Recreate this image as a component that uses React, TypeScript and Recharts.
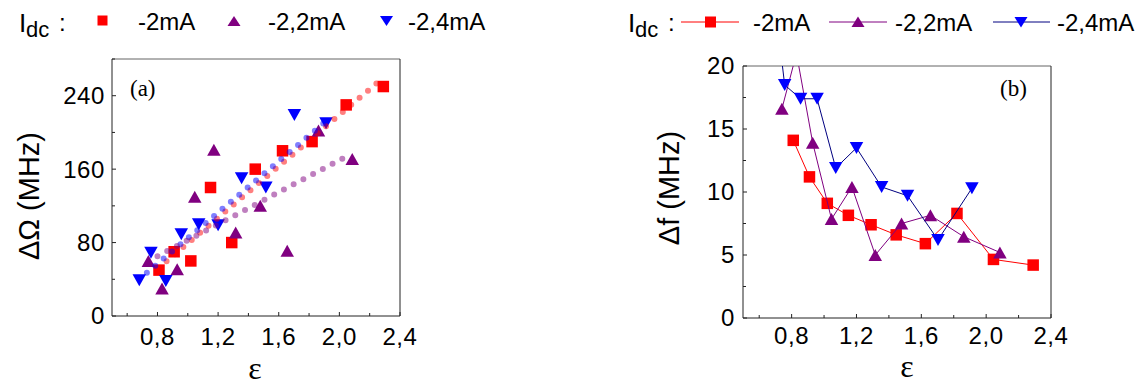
import React from 'react';
import { ScatterChart, Scatter, XAxis, YAxis, ReferenceLine } from 'recharts';

// ---------- data ----------
const epsRed = [0.81, 0.91, 1.02, 1.15, 1.29, 1.445, 1.625, 1.82, 2.045, 2.29];
const omegaRed = [50, 70, 60, 140, 80, 160, 180, 190, 230, 250];
const dfRed = [14.1, 11.2, 9.1, 8.15, 7.4, 6.6, 5.9, 8.3, 4.65, 4.2];

const epsPurple = [0.74, 0.83, 0.93, 1.046, 1.172, 1.316, 1.478, 1.656, 1.862, 2.085];
const omegaPurple = [60, 30, 51, 130, 181, 91, 120, 71, 202, 171];
const dfPurple = [16.6, 21, 13.9, 7.85, 10.4, 5.0, 7.5, 8.15, 6.45, 5.2];

const epsBlue = [0.68, 0.757, 0.855, 0.957, 1.072, 1.2, 1.355, 1.515, 1.703, 1.912];
const omegaBlue = [39, 69, 38, 89, 100, 99, 150, 140, 219, 210];
const dfBlue = [27, 18.5, 17.4, 17.4, 11.9, 13.5, 10.4, 9.7, 6.2, 10.3];

// linear fits (endpoints)
const fitRedEps = [0.86, 2.26];
const fitRedOmega = [59.6, 255.5];
const fitPurpleEps = [0.8, 2.06];
const fitPurpleOmega = [65.1, 175.0];
const fitBlueEps = [0.73, 1.94];
const fitBlueOmega = [47.1, 216.1];

const xTicks = [0.6, 0.8, 1.0, 1.2, 1.4, 1.6, 1.8, 2.0, 2.2, 2.4];
const xMajor = [0.8, 1.2, 1.6, 2.0, 2.4];
const yTicksA = [0, 40, 80, 120, 160, 200, 240, 280];
const yMajorA = [0, 80, 160, 240];
const yTicksB = [0, 2.5, 5, 7.5, 10, 12.5, 15, 17.5, 20];
const yMajorB = [0, 5, 10, 15, 20];

const seriesLabels = ['-2mA', '-2,2mA', '-2,4mA'];

// ---------- helpers ----------
const zip = (xs: number[], ys: number[]) => xs.map((x, i) => ({ x, y: ys[i] }));

const RED = '#ff0000';
const PURPLE = '#800080';
const BLUE = '#0000ff';
const AXIS = '#222';
const SANS = '"Liberation Sans", Arial, sans-serif';
const SERIF = '"Liberation Serif", "Times New Roman", serif';

const isIn = (arr: number[], v: number) => arr.some((m) => Math.abs(m - v) < 1e-6);

function makeXTick(major: number[], labelDy: number) {
  return (props: any) => {
    const { x, y, payload } = props;
    const mj = isIn(major, payload.value);
    return (
      <g>
        <line x1={x} x2={x} y1={y} y2={y - (mj ? 4 : 3)} stroke={AXIS} strokeWidth={1} />
        {mj && (
          <text x={x} y={y + labelDy} textAnchor="middle" fontSize={24} letterSpacing={0.6} fontFamily={SANS} fill="#000">
            {payload.value.toFixed(1).replace('.', ',')}
          </text>
        )}
      </g>
    );
  };
}

function makeYTick(major: number[], dx: number) {
  return (props: any) => {
    const { x, y, payload } = props;
    const mj = isIn(major, payload.value);
    return (
      <g>
        <line x1={x} x2={x + (mj ? 4 : 3)} y1={y} y2={y} stroke={AXIS} strokeWidth={1} />
        {mj && (
          <text x={x - dx} y={y + 8.4} textAnchor="end" fontSize={24} letterSpacing={0.6} fontFamily={SANS} fill="#000">
            {String(payload.value)}
          </text>
        )}
      </g>
    );
  };
}

const Square = (props: any) => {
  const { cx, cy } = props;
  const s = 11.5;
  return <rect x={cx - s / 2} y={cy - s / 2} width={s} height={s} fill={RED} />;
};
const TriUp = (props: any) => {
  const { cx, cy } = props;
  const w = 13.5, h = 12;
  return <polygon points={`${cx - w / 2},${cy + h / 2} ${cx + w / 2},${cy + h / 2} ${cx},${cy - h / 2}`} fill={PURPLE} />;
};
const TriDown = (props: any) => {
  const { cx, cy } = props;
  const w = 13.5, h = 12;
  return <polygon points={`${cx - w / 2},${cy - h / 2} ${cx + w / 2},${cy - h / 2} ${cx},${cy + h / 2}`} fill={BLUE} />;
};
const NoShape = () => <g />;

const dotLine = (color: string) => ({
  stroke: color,
  strokeOpacity: 0.5,
  strokeWidth: 6,
  strokeDasharray: '0 11',
  strokeLinecap: 'round' as const,
});

// ---------- panels ----------
function PanelA() {
  return (
    <ScatterChart
      width={573}
      height={385}
      margin={{ top: 59, left: 72, right: 173, bottom: 39 }}
    >
      <XAxis
        type="number"
        dataKey="x"
        domain={[0.5, 2.4]}
        ticks={xTicks}
        interval={0}
        tickSize={0}
        tickMargin={0}
        tickLine={false}
        axisLine={{ stroke: AXIS }}
        tick={makeXTick(xMajor, 29)}
        height={30}
        allowDataOverflow
      />
      <YAxis
        type="number"
        dataKey="y"
        domain={[0, 280]}
        ticks={yTicksA}
        interval={0}
        tickSize={0}
        tickMargin={0}
        tickLine={false}
        axisLine={{ stroke: AXIS }}
        tick={makeYTick(yMajorA, 7)}
        width={40}
      />
      <ReferenceLine y={280} stroke={AXIS} strokeOpacity={0.7} />
      <ReferenceLine x={2.4} stroke={AXIS} />
      <Scatter data={zip(epsRed, omegaRed)} shape={Square} isAnimationActive={false} />
      <Scatter data={zip(epsPurple, omegaPurple)} shape={TriUp} isAnimationActive={false} />
      <Scatter data={zip(epsBlue, omegaBlue)} shape={TriDown} isAnimationActive={false} />
      <Scatter data={zip(fitRedEps, fitRedOmega)} shape={NoShape} line={dotLine(RED)} lineType="joint" isAnimationActive={false} />
      <Scatter data={zip(fitBlueEps, fitBlueOmega)} shape={NoShape} line={dotLine(BLUE)} lineType="joint" isAnimationActive={false} />
      <Scatter data={zip(fitPurpleEps, fitPurpleOmega)} shape={NoShape} line={dotLine(PURPLE)} lineType="joint" isAnimationActive={false} />
    </ScatterChart>
  );
}

function PanelB() {
  return (
    <ScatterChart
      width={573}
      height={385}
      margin={{ top: 66, left: 130, right: 95, bottom: 37 }}
    >
      <XAxis
        type="number"
        dataKey="x"
        domain={[0.5, 2.4]}
        ticks={xTicks}
        interval={0}
        tickSize={0}
        tickMargin={0}
        tickLine={false}
        axisLine={{ stroke: AXIS }}
        tick={makeXTick(xMajor, 26)}
        height={30}
        allowDataOverflow
      />
      <YAxis
        type="number"
        dataKey="y"
        domain={[0, 20]}
        ticks={yTicksB}
        interval={0}
        tickSize={0}
        tickMargin={0}
        tickLine={false}
        axisLine={{ stroke: AXIS }}
        tick={makeYTick(yMajorB, 8)}
        width={40}
        allowDataOverflow
      />
      <ReferenceLine y={20} stroke={AXIS} strokeOpacity={0.7} />
      <ReferenceLine x={2.4} stroke={AXIS} />
      <Scatter data={zip(epsRed, dfRed)} shape={Square} line={{ stroke: RED, strokeWidth: 1 }} lineType="joint" isAnimationActive={false} />
      <Scatter data={zip(epsPurple, dfPurple)} shape={TriUp} line={{ stroke: PURPLE, strokeWidth: 1 }} lineType="joint" isAnimationActive={false} />
      <Scatter data={zip(epsBlue, dfBlue)} shape={TriDown} line={{ stroke: '#000080', strokeWidth: 1 }} lineType="joint" isAnimationActive={false} />
    </ScatterChart>
  );
}

function Overlay() {
  const lg = { fontSize: 24, fontFamily: SANS, fill: '#000' };
  return (
    <svg width={1146} height={385} style={{ position: 'absolute', left: 0, top: 0, pointerEvents: 'none' }}>
      {/* left legend */}
      <text x={19} y={32} fontSize={26} fontFamily={SANS}>I</text>
      <text x={26} y={37} fontSize={22} fontFamily={SANS}>dc</text>
      <text x={59} y={31} {...lg}>:</text>
      <rect x={97.5} y={15.5} width={10} height={10} fill={RED} />
      <text x={138} y={30} {...lg}>{seriesLabels[0]}</text>
      <polygon points="227.5,26 240.5,26 234,16" fill={PURPLE} />
      <text x={268} y={30} {...lg}>{seriesLabels[1]}</text>
      <polygon points="380,16 393,16 386.5,26" fill={BLUE} />
      <text x={408} y={30} {...lg}>{seriesLabels[2]}</text>

      {/* right legend */}
      <text x={628} y={32} fontSize={26} fontFamily={SANS}>I</text>
      <text x={635} y={37} fontSize={22} fontFamily={SANS}>dc</text>
      <text x={668} y={31} {...lg}>:</text>
      <line x1={681} x2={739} y1={22} y2={22} stroke={RED} strokeWidth={1} />
      <rect x={705} y={16.5} width={11} height={11} fill={RED} />
      <text x={753} y={31} {...lg}>{seriesLabels[0]}</text>
      <line x1={829} x2={887} y1={22} y2={22} stroke={PURPLE} strokeWidth={1} />
      <polygon points="851.5,27 864.5,27 858,16.5" fill={PURPLE} />
      <text x={895} y={31} {...lg}>{seriesLabels[1]}</text>
      <line x1={993} x2={1050} y1={22} y2={22} stroke="#000080" strokeWidth={1} />
      <polygon points="1014.5,17 1027.5,17 1021,27.5" fill={BLUE} />
      <text x={1057} y={31} {...lg}>{seriesLabels[2]}</text>

      {/* panel labels */}
      <text x={130} y={96} fontSize={23} fontFamily={SERIF}>(a)</text>
      <text x={1000} y={96} fontSize={23} fontFamily={SERIF}>(b)</text>

      {/* axis titles */}
      <text x={29} y={196} fontSize={29} fontFamily={SANS} textAnchor="middle" dominantBaseline="central" transform="rotate(-90 29 196)">ΔΩ (MHz)</text>
      <text x={669} y={188} fontSize={29} fontFamily={SANS} textAnchor="middle" dominantBaseline="central" transform="rotate(-90 669 188)">Δf (MHz)</text>
      <text x={255} y={379} fontSize={32} fontFamily={SERIF} textAnchor="middle">ε</text>
      <text x={907} y={377} fontSize={32} fontFamily={SERIF} textAnchor="middle">ε</text>
    </svg>
  );
}

export default function App() {
  return (
    <div style={{ position: 'absolute', left: 0, top: 0, width: 1146, height: 385, background: '#fff', overflow: 'hidden' }}>
      <div style={{ position: 'absolute', left: 0, top: 0 }}>
        <PanelA />
      </div>
      <div style={{ position: 'absolute', left: 573, top: 0 }}>
        <PanelB />
      </div>
      <Overlay />
    </div>
  );
}
